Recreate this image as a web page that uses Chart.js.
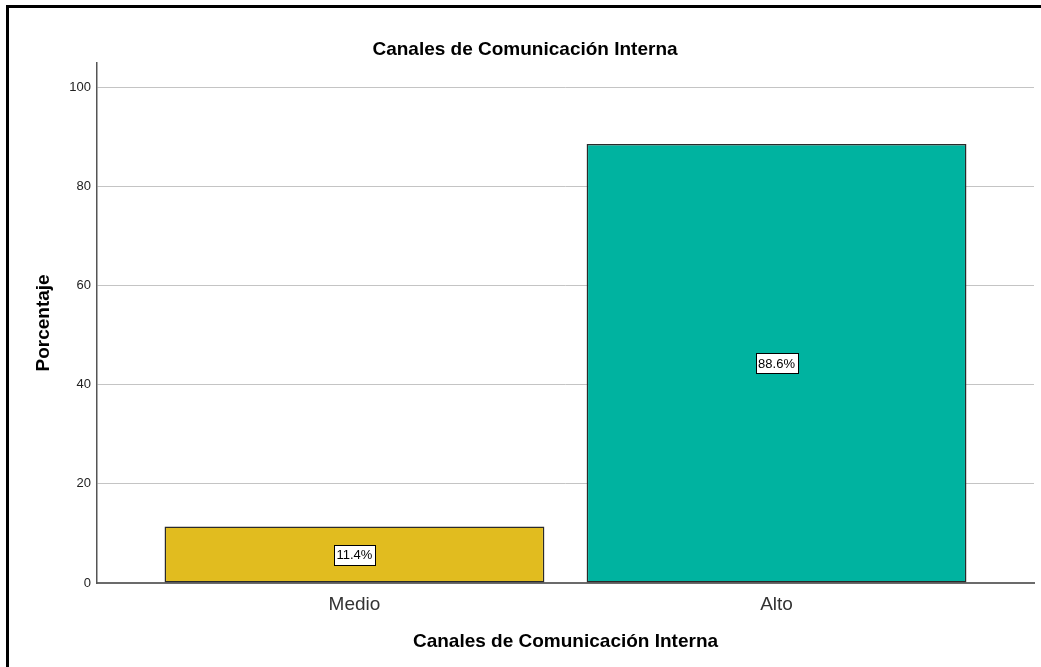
<!DOCTYPE html>
<html>
<head>
<meta charset="utf-8">
<script src="https://cdn.jsdelivr.net/npm/chart.js@4.4.1/dist/chart.umd.min.js"></script>
<style>
  html, body { margin: 0; padding: 0; background: #fff; overflow: hidden; }
  body { width: 1041px; height: 667px; position: relative; }
  #frame { position: absolute; left: 6px; top: 5px; width: 2000px; height: 2000px;
           border-left: 3px solid #000; border-top: 3px solid #000; box-sizing: border-box; }
  #wrap { position: absolute; left: 16px; top: 0; width: 1025px; height: 667px; }
</style>
</head>
<body>
<div id="frame"></div>
<div id="wrap"><canvas id="chart"></canvas></div>
<script>
// Categories and percentages
const categories = ['Medio', 'Alto'];
const percentages = [11.4, 88.6];
const barColors = ['#E1BC1F', '#00B3A0'];
const yTicks = [0, 20, 40, 60, 80, 100];

const FONT = "'Liberation Sans', Arial, sans-serif";

// Boxed value labels in the middle of each bar
const boxedLabels = {
  id: 'boxedLabels',
  afterDatasetsDraw(chart) {
    const ctx = chart.ctx;
    const meta = chart.getDatasetMeta(0);
    ctx.save();
    ctx.font = '13px ' + FONT;
    ctx.textAlign = 'center';
    ctx.textBaseline = 'middle';
    meta.data.forEach((bar, i) => {
      const text = percentages[i].toFixed(1) + '%';
      const cx = bar.x;
      const cy = (bar.y + bar.base) / 2;
      const w = Math.round(ctx.measureText(text).width) + 5;
      const h = 20;
      const x0 = Math.round(cx - w / 2) + 0.5;
      const y0 = Math.round(cy - h / 2) + 0.5;
      ctx.fillStyle = '#fff';
      ctx.fillRect(x0, y0, w, h);
      ctx.strokeStyle = '#000';
      ctx.lineWidth = 1;
      ctx.strokeRect(x0, y0, w, h);
      ctx.fillStyle = '#000';
      ctx.fillText(text, cx, cy + 1);
    });
    ctx.restore();
  }
};

new Chart(document.getElementById('chart'), {
  type: 'bar',
  data: {
    datasets: [{
      data: categories.map((c, i) => ({ x: i, y: percentages[i] })),
      backgroundColor: barColors,
      borderColor: '#2a2a2a',
      borderWidth: 1.5,
      borderSkipped: false,
      categoryPercentage: 1,
      barPercentage: 0.9
    }]
  },
  options: {
    responsive: true,
    maintainAspectRatio: false,
    animation: false,
    layout: { padding: { left: 0, right: 7, top: 0, bottom: 0 } },
    plugins: {
      legend: { display: false },
      tooltip: { enabled: false },
      title: {
        display: true,
        text: 'Canales de Comunicación Interna',
        color: '#000',
        font: { family: FONT, size: 19, weight: 'bold' },
        padding: { top: 38, bottom: 2 }
      }
    },
    scales: {
      x: {
        type: 'linear',
        offset: false,
        min: -0.61,
        max: 1.61,
        afterBuildTicks(scale) {
          scale.ticks = categories.map((c, i) => ({ value: i }));
        },
        afterFit(scale) { scale.height = 84; },
        grid: { display: false, drawTicks: false, offset: false },
        border: { display: true, color: '#6b6b6b', width: 2 },
        ticks: {
          autoSkip: false,
          maxRotation: 0,
          padding: 10,
          color: '#333',
          font: { family: FONT, size: 19 },
          callback: (v) => categories[v]
        },
        title: {
          display: true,
          text: 'Canales de Comunicación Interna',
          color: '#000',
          font: { family: FONT, size: 19, weight: 'bold' },
          padding: { top: 0, bottom: 14 }
        }
      },
      y: {
        min: 0,
        max: 105,
        afterBuildTicks(scale) {
          scale.ticks = yTicks.map(v => ({ value: v }));
        },
        afterFit(scale) { scale.width = 81; },
        grid: { color: '#c4c4c4', lineWidth: 1, drawTicks: false },
        border: { display: true, color: '#555', width: 1.5 },
        ticks: {
          padding: 6,
          color: '#222',
          font: { family: FONT, size: 13 }
        },
        title: {
          display: true,
          text: 'Porcentaje',
          color: '#000',
          font: { family: FONT, size: 19, weight: 'bold' },
          padding: { top: 16, bottom: 0 }
        }
      }
    }
  },
  plugins: [boxedLabels]
});
</script>
</body>
</html>
